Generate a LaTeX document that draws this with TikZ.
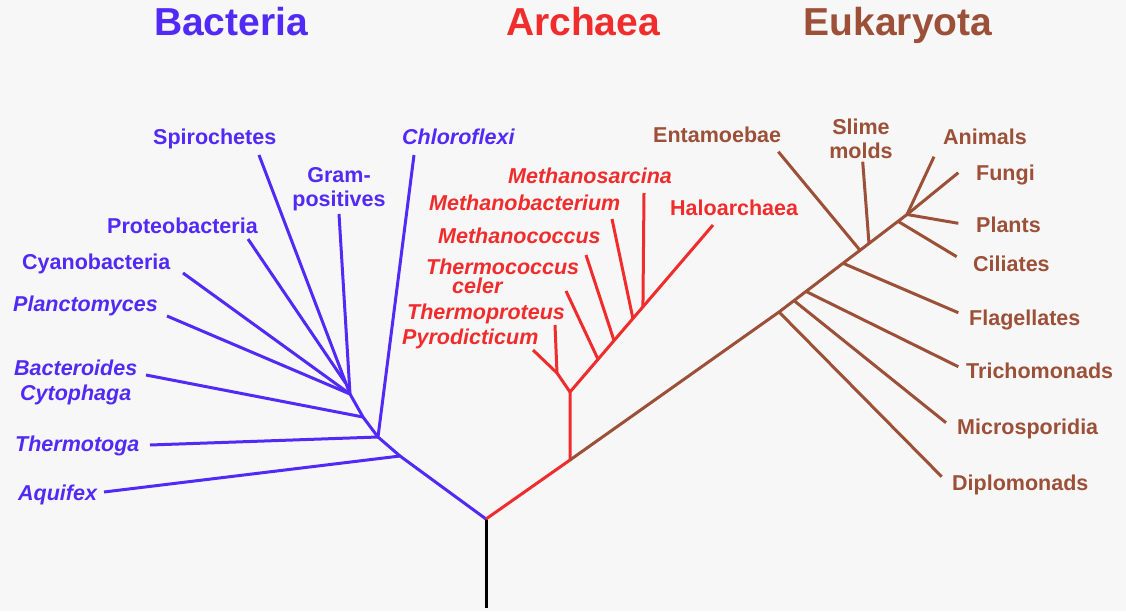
\documentclass[tikz,border=0pt]{standalone}
\usepackage{fontspec}
\setmainfont{Liberation Sans}
\usetikzlibrary{calc}
\definecolor{bact}{RGB}{82,42,248}
\definecolor{arch}{RGB}{240,44,44}
\definecolor{euk}{RGB}{156,80,56}
\definecolor{bg}{RGB}{247,247,247}
\begin{document}
\begin{tikzpicture}[x=1pt,y=-1pt,
  branch/.style={line width=3pt, line join=round},
  lab/.style={font=\fontsize{21.5}{24}\selectfont\bfseries, inner sep=0pt, anchor=base west},
  labc/.style={lab, anchor=base},
  ital/.style={font=\fontsize{21.5}{24}\selectfont\bfseries\itshape},
  domtitle/.style={font=\fontsize{39}{42}\selectfont\bfseries, inner sep=0pt, anchor=base}]
\fill[bg] (0,0) rectangle (1126,611);
\useasboundingbox (0,0) rectangle (1126,611);

% ---------- titles ----------
\node[domtitle, text=bact] (tBact) at (231,35) {Bacteria};
\node[domtitle, text=arch] (tArch) at (583,35) {Archaea};
\node[domtitle, text=euk]  (tEuk)  at (898,35) {Eukaryota};

% ---------- root ----------
\coordinate (root) at (486,519);
\coordinate (base) at (486,608);
\draw[branch, black] (base) -- (root);

% ---------- Bacteria ----------
\coordinate (bA) at (400,456);
\coordinate (bT) at (378,437);
\coordinate (bB) at (363,417);
\coordinate (bP) at (350,394);
\coordinate (jPr) at (345.5,383);
\coordinate (tAq) at (104,492);
\coordinate (tTh) at (150,445);
\coordinate (tCh) at (414,155);
\coordinate (tBc) at (146,375);
\coordinate (tPl) at (167,316);
\coordinate (tCy) at (183,273);
\coordinate (tGp) at (339,214);
\coordinate (tSp) at (259,155);
\coordinate (tPr) at (248,239);
\begin{scope}[branch, bact]
  \draw (root) -- (bA) -- (bT) -- (bB) -- (bP);
  \draw (bA) -- (tAq);
  \draw (bT) -- (tTh);
  \draw (bT) -- (tCh);
  \draw (bB) -- (tBc);
  \draw (bP) -- (tPl);
  \draw (bP) -- (tCy);
  \draw (bP) -- (tGp);
  \draw (bP) -- (tSp);
  \draw (jPr) -- (tPr);
\end{scope}
\begin{scope}[text=bact]
  \node[lab] (Sp) at (153,144) {Spirochetes};
  \node[labc] (Gp1) at (339,182) {Gram-};
  \node[labc] (Gp2) at (339,206) {positives};
  \node[lab, ital] (Ch) at (402,144) {Chloroflexi};
  \node[lab] (Pr) at (107,233) {Proteobacteria};
  \node[lab] (Cy) at (22,269) {Cyanobacteria};
  \node[lab, ital] (Pl) at (13,311) {Planctomyces};
  \node[lab, ital] (Bc1) at (14,375) {Bacteroides};
  \node[lab, ital] (Bc2) at (20,400) {Cytophaga};
  \node[lab, ital] (Th) at (15,451) {Thermotoga};
  \node[lab, ital] (Aq) at (18,500) {Aquifex};
\end{scope}

% ---------- Archaea ----------
\coordinate (aJ) at (570,460);
\coordinate (aK) at (570,392);
\coordinate (aPT) at (557,373);
\coordinate (tPy) at (533,350);
\coordinate (tTp) at (555,325);
\coordinate (tHa) at (713,225);
\coordinate (jTc) at ($(aK)!0.196!(tHa)$);
\coordinate (jMc) at ($(aK)!0.308!(tHa)$);
\coordinate (jMb) at ($(aK)!0.44!(tHa)$);
\coordinate (jMs) at ($(aK)!0.51!(tHa)$);
\coordinate (tTc) at (566,291);
\coordinate (tMc) at (586,255);
\coordinate (tMb) at (612,219);
\coordinate (tMs) at (644,193);
\begin{scope}[branch, arch]
  \draw (root) -- (aJ) -- (aK) -- (tHa);
  \draw (aK) -- (aPT) -- (tPy);
  \draw (aPT) -- (tTp);
  \draw (jTc) -- (tTc);
  \draw (jMc) -- (tMc);
  \draw (jMb) -- (tMb);
  \draw (jMs) -- (tMs);
\end{scope}
\begin{scope}[text=arch]
  \node[lab, ital] (Ms) at (508,183) {Methanosarcina};
  \node[lab, ital] (Mb) at (429,210) {Methanobacterium};
  \node[lab] (Ha) at (670,215) {Haloarchaea};
  \node[lab, ital] (Mc) at (438,243) {Methanococcus};
  \node[lab, ital] (Tc1) at (426,274) {Thermococcus};
  \node[lab, ital] (Tc2) at (452,293) {celer};
  \node[lab, ital] (Tp) at (407,319) {Thermoproteus};
  \node[lab, ital] (Py) at (402,344) {Pyrodicticum};
\end{scope}

% ---------- Eukaryota ----------
\coordinate (eD) at (779,312);
\coordinate (eC) at (907,214.5);
\coordinate (eM) at ($(eD)!0.117!(eC)$);
\coordinate (eT) at ($(eD)!0.211!(eC)$);
\coordinate (eF) at ($(eD)!0.5!(eC)$);
\coordinate (eE) at ($(eD)!0.633!(eC)$);
\coordinate (eS) at ($(eD)!0.703!(eC)$);
\coordinate (eCi) at ($(eD)!0.93!(eC)$);
\coordinate (tDi) at (941.7,476.7);
\coordinate (tMi) at (946,422.7);
\coordinate (tTr) at (958.3,366.7);
\coordinate (tFl) at (958.3,312.7);
\coordinate (tEn) at (778.3,151.7);
\coordinate (tSl) at (862.7,161.7);
\coordinate (tCi) at (956.7,256.7);
\coordinate (tPn) at (958.3,223.3);
\coordinate (tAn) at (934,156.7);
\coordinate (tFu) at (958.3,172.7);
\begin{scope}[branch, euk]
  \draw (aJ) -- (eD) -- (eC);
  \draw (eD) -- (tDi);
  \draw (eM) -- (tMi);
  \draw (eT) -- (tTr);
  \draw (eF) -- (tFl);
  \draw (eE) -- (tEn);
  \draw (eS) -- (tSl);
  \draw (eCi) -- (tCi);
  \draw (eC) -- (tPn);
  \draw (eC) -- (tAn);
  \draw (eC) -- (tFu);
\end{scope}
\begin{scope}[text=euk]
  \node[lab] (En) at (653,142) {Entamoebae};
  \node[labc] (Sl1) at (861,134) {Slime};
  \node[labc] (Sl2) at (861,158) {molds};
  \node[lab] (An) at (943,144) {Animals};
  \node[lab] (Fu) at (976,180) {Fungi};
  \node[lab] (Pn) at (976,232) {Plants};
  \node[lab] (Ci) at (973,271) {Ciliates};
  \node[lab] (Fl) at (969,325) {Flagellates};
  \node[lab] (Tr) at (966,378) {Trichomonads};
  \node[lab] (Mi) at (957,434) {Microsporidia};
  \node[lab] (Di) at (952,490) {Diplomonads};
\end{scope}
\end{tikzpicture}
\end{document}
